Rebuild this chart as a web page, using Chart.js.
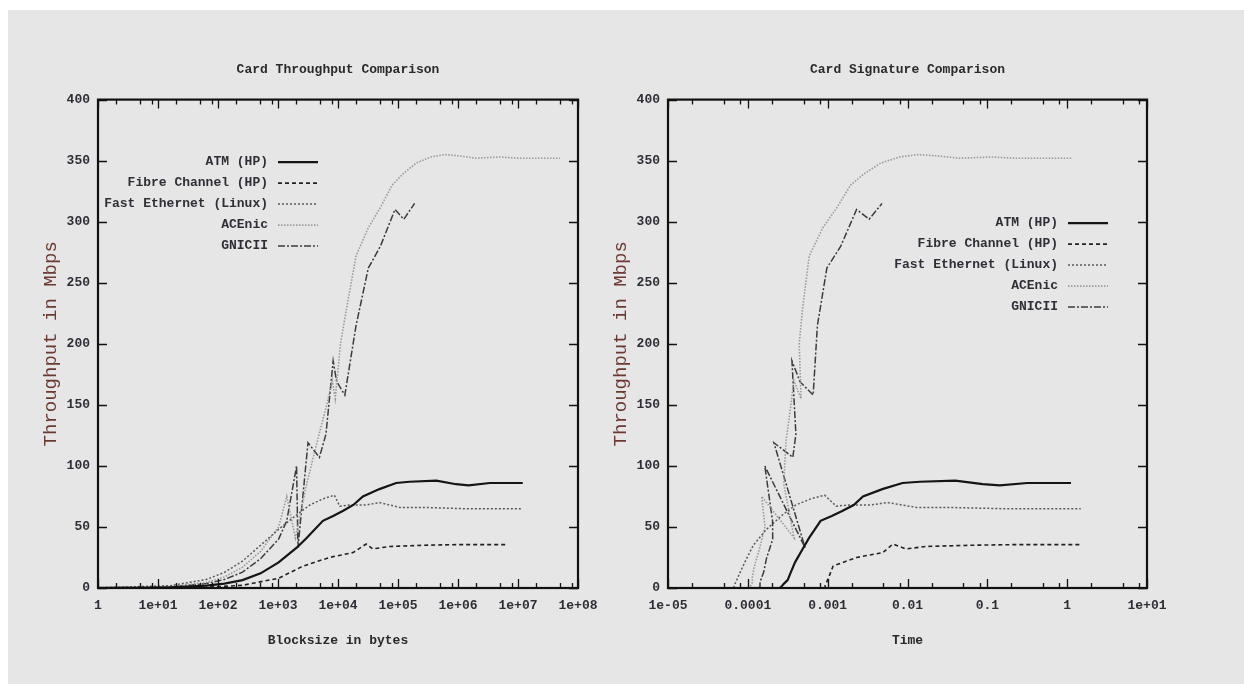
<!DOCTYPE html>
<html>
<head>
<meta charset="utf-8">
<script src="https://cdn.jsdelivr.net/npm/chart.js@4.4.1/dist/chart.umd.min.js"></script>
<style>
  body { margin: 0; background: #fff; width: 1244px; height: 684px; overflow: hidden; position: relative; }
  #bg { position: absolute; left: 8px; top: 10px; width: 1236px; height: 674px; background: #e6e6e6; }
  canvas { position: absolute; top: 0; }
  #throughput { left: 0; }
  #signature { left: 590px; }
</style>
</head>
<body>
<div id="bg"></div>
<canvas id="throughput" width="620" height="684"></canvas>
<canvas id="signature" width="654" height="684"></canvas>
<script>
// series names
const seriesNames = ['ATM (HP)', 'Fibre Channel (HP)', 'Fast Ethernet (Linux)', 'ACEnic', 'GNICII'];

// ATM (HP): block size (bytes), throughput (Mbps), time (s)
const atmSize = [1, 4, 16, 64, 128, 256, 512, 1024, 2048, 3000, 5600, 8300, 12000, 18000, 26000, 49000, 93000, 155000, 436000, 930000, 1500000, 3400000, 12000000];
const atmThr = [0.03, 0.12, 0.5, 1.9, 3.6, 6.5, 12, 21, 33, 41, 55, 59, 63, 68, 75, 81, 86, 87, 88, 85, 84, 86, 86];
const atmTime = [0.000267, 0.000267, 0.000256, 0.000269, 0.000284, 0.000315, 0.000341, 0.00039, 0.000496, 0.000585, 0.000815, 0.001125, 0.00152, 0.00212, 0.00277, 0.00484, 0.00865, 0.01425, 0.0396, 0.0875, 0.143, 0.316, 1.116];

// Fibre Channel (HP)
const fcSize = [1, 16, 64, 256, 1024, 2630, 7200, 17800, 29500, 38000, 72000, 263000, 933000, 6300000];
const fcThr = [0.009, 0.14, 0.55, 2.2, 8, 18, 25, 29, 36, 32, 34, 35, 35.5, 35.5];
const fcTime = [0.00089, 0.00091, 0.00093, 0.00093, 0.00102, 0.00117, 0.0023, 0.00491, 0.00656, 0.0095, 0.0169, 0.0601, 0.21, 1.42];

// Fast Ethernet (Linux)
const feSize = [1, 16, 64, 128, 256, 512, 1024, 2048, 3400, 5600, 8700, 10700, 15500, 29500, 49000, 107000, 263000, 1200000, 12000000];
const feThr = [0.12, 1.9, 7, 12.8, 22, 35, 48, 60, 68, 73, 76, 67, 68, 68, 70, 66, 66, 65, 65];
const feTime = [0.0000667, 0.0000674, 0.0000731, 0.00008, 0.0000931, 0.000117, 0.000171, 0.000273, 0.0004, 0.000614, 0.000916, 0.00128, 0.00182, 0.00347, 0.0056, 0.013, 0.0319, 0.148, 1.477];

// ACEnic
const aceSize = [1, 16, 64, 128, 256, 512, 1024, 1400, 1950, 3000, 4500, 6500, 8000, 9000, 11000, 14000, 20000, 32000, 50000, 80000, 120000, 200000, 350000, 600000, 1000000, 2000000, 5000000, 10000000, 50000000];
const aceThr = [0.08, 1.2, 4.5, 9, 17, 30, 50, 75, 41, 85, 120, 150, 170, 155, 200, 230, 272, 295, 311, 330, 339, 348, 353, 355, 354, 352, 353, 352, 352];
const aceTime = [0.0001, 0.000107, 0.000114, 0.000114, 0.00012, 0.000137, 0.000164, 0.000149, 0.00038, 0.000282, 0.0003, 0.000347, 0.000376, 0.000465, 0.00044, 0.000487, 0.000588, 0.000868, 0.00129, 0.00194, 0.00283, 0.0046, 0.00793, 0.0135, 0.0226, 0.0455, 0.113, 0.227, 1.136];

// GNICII
const gnicSize = [1, 16, 64, 128, 256, 512, 1024, 1400, 2040, 2150, 3160, 4900, 6300, 8300, 9500, 13000, 20000, 32000, 51000, 89000, 125000, 189000];
const gnicThr = [0.06, 0.9, 3.6, 7, 13, 24, 40, 55, 100, 33, 119, 107, 126, 186, 169, 158, 215, 262, 280, 310, 302, 315];
const gnicTime = [0.000133, 0.000142, 0.000142, 0.000146, 0.000158, 0.000171, 0.000205, 0.000204, 0.000163, 0.000521, 0.000212, 0.000366, 0.0004, 0.000357, 0.00045, 0.000658, 0.000744, 0.000977, 0.00146, 0.0023, 0.00331, 0.0048];

// axis ticks
const sizeTicks = [1, 1e1, 1e2, 1e3, 1e4, 1e5, 1e6, 1e7, 1e8];
const sizeTickLabels = ['1', '1e+01', '1e+02', '1e+03', '1e+04', '1e+05', '1e+06', '1e+07', '1e+08'];
const timeTicks = [1e-5, 1e-4, 1e-3, 1e-2, 1e-1, 1, 10];
const timeTickLabels = ['1e-05', '0.0001', '0.001', '0.01', '0.1', '1', '1e+01'];
const minorSteps = [2, 5, 8];

const FONT = 'Liberation Mono';
const TEXT = '#2e2e36';

const styles = [
    { borderColor: '#151515', borderWidth: 2.2, borderDash: [] },
    { borderColor: '#222222', borderWidth: 1.6, borderDash: [4, 3] },
    { borderColor: '#5a5a5a', borderWidth: 1.5, borderDash: [2, 2] },
    { borderColor: '#9a9a9a', borderWidth: 1.6, borderDash: [1.5, 1.5] },
    { borderColor: '#3c3c3c', borderWidth: 1.5, borderDash: [7, 2, 2, 2] }
];

function pts(xs, ys) {
    return xs.map((v, i) => ({ x: v, y: ys[i] }));
}

function makeDatasets(xsList) {
    const ysList = [atmThr, fcThr, feThr, aceThr, gnicThr];
    return seriesNames.map((name, i) => Object.assign({
        label: name,
        data: pts(xsList[i], ysList[i]),
        pointRadius: 0,
        tension: 0,
        fill: false
    }, styles[i]));
}

// frame, inward tick marks and key in gnuplot style
const gnuplotFrame = {
    id: 'gnuplotFrame',
    afterDatasetsDraw(chart, args, opts) {
        const { ctx, chartArea: a, scales: { x, y } } = chart;
        ctx.save();
        ctx.setLineDash([]);
        ctx.strokeStyle = '#111';
        ctx.lineWidth = 1.3;
        ctx.beginPath();
        opts.xMajor.forEach(v => {
            const px = Math.round(x.getPixelForValue(v)) + 0.5;
            ctx.moveTo(px, a.bottom); ctx.lineTo(px, a.bottom - 9);
            ctx.moveTo(px, a.top); ctx.lineTo(px, a.top + 9);
            if (v < opts.xMajor[opts.xMajor.length - 1]) {
                minorSteps.forEach(m => {
                    const mx = Math.round(x.getPixelForValue(v * m)) + 0.5;
                    ctx.moveTo(mx, a.bottom); ctx.lineTo(mx, a.bottom - 5);
                    ctx.moveTo(mx, a.top); ctx.lineTo(mx, a.top + 5);
                });
            }
        });
        y.ticks.forEach(t => {
            const py = Math.round(y.getPixelForValue(t.value)) + 0.5;
            ctx.moveTo(a.left, py); ctx.lineTo(a.left + 9, py);
            ctx.moveTo(a.right, py); ctx.lineTo(a.right - 9, py);
        });
        ctx.stroke();
        ctx.lineWidth = 2.2;
        ctx.strokeRect(a.left, a.top, a.right - a.left, a.bottom - a.top);

        // key
        ctx.font = 'bold 13px "' + FONT + '"';
        ctx.textAlign = 'right';
        ctx.textBaseline = 'middle';
        ctx.fillStyle = TEXT;
        const kx = a.left + opts.keyX;
        chart.data.datasets.forEach((ds, i) => {
            const ky = a.top + opts.keyY + i * 21;
            ctx.fillText(ds.label, kx, ky);
            ctx.strokeStyle = ds.borderColor;
            ctx.lineWidth = ds.borderWidth;
            ctx.setLineDash(ds.borderDash);
            ctx.beginPath();
            ctx.moveTo(kx + 10, ky + 0.5);
            ctx.lineTo(kx + 50, ky + 0.5);
            ctx.stroke();
        });
        ctx.restore();
    }
};

function chartConfig(cfg) {
    return {
        type: 'line',
        data: { datasets: makeDatasets(cfg.xsList) },
        plugins: [gnuplotFrame],
        options: {
            responsive: false,
            animation: false,
            layout: { padding: { right: cfg.padRight } },
            plugins: {
                legend: { display: false },
                tooltip: { enabled: false },
                title: {
                    display: true,
                    text: cfg.title,
                    fullSize: false,
                    color: '#2a2a2a',
                    font: { family: FONT, size: 13, weight: 'bold' },
                    padding: { top: 62, bottom: 22 }
                },
                gnuplotFrame: { xMajor: cfg.ticks, keyX: cfg.keyX, keyY: cfg.keyY }
            },
            scales: {
                x: {
                    type: 'logarithmic',
                    min: cfg.ticks[0],
                    max: cfg.ticks[cfg.ticks.length - 1],
                    grid: { display: false, drawTicks: false },
                    border: { display: false },
                    afterBuildTicks: s => { s.ticks = cfg.ticks.map(v => ({ value: v })); },
                    afterFit: s => { s.height = 96; },
                    ticks: {
                        autoSkip: false,
                        maxRotation: 0,
                        padding: 10,
                        color: TEXT,
                        font: { family: FONT, size: 13, weight: 'bold' },
                        callback: (v, i) => cfg.tickLabels[i]
                    },
                    title: {
                        display: true,
                        text: cfg.xTitle,
                        color: '#2a2a2a',
                        font: { family: FONT, size: 13, weight: 'bold' },
                        padding: { top: 0, bottom: 35 }
                    }
                },
                y: {
                    min: 0,
                    max: 400,
                    grid: { display: false, drawTicks: false },
                    border: { display: false },
                    afterFit: s => { s.width = cfg.yWidth; },
                    ticks: {
                        stepSize: 50,
                        padding: 8,
                        color: TEXT,
                        font: { family: FONT, size: 13, weight: 'bold' }
                    },
                    title: {
                        display: true,
                        text: 'Throughput in Mbps',
                        color: '#6a3a32',
                        font: { family: FONT, size: 19, weight: 'normal' },
                        padding: { top: cfg.yTitlePad, bottom: 0 }
                    }
                }
            }
        }
    };
}

new Chart(document.getElementById('throughput'), chartConfig({
    title: 'Card Throughput Comparison',
    xTitle: 'Blocksize in bytes',
    xsList: [atmSize, fcSize, feSize, aceSize, gnicSize],
    ticks: sizeTicks,
    tickLabels: sizeTickLabels,
    padRight: 42,
    yWidth: 98,
    yTitlePad: 40,
    keyX: 170,
    keyY: 62
}));

new Chart(document.getElementById('signature'), chartConfig({
    title: 'Card Signature Comparison',
    xTitle: 'Time',
    xsList: [atmTime, fcTime, feTime, aceTime, gnicTime],
    ticks: timeTicks,
    tickLabels: timeTickLabels,
    padRight: 97,
    yWidth: 78,
    yTitlePad: 20,
    keyX: 390,
    keyY: 123
}));
</script>
</body>
</html>
